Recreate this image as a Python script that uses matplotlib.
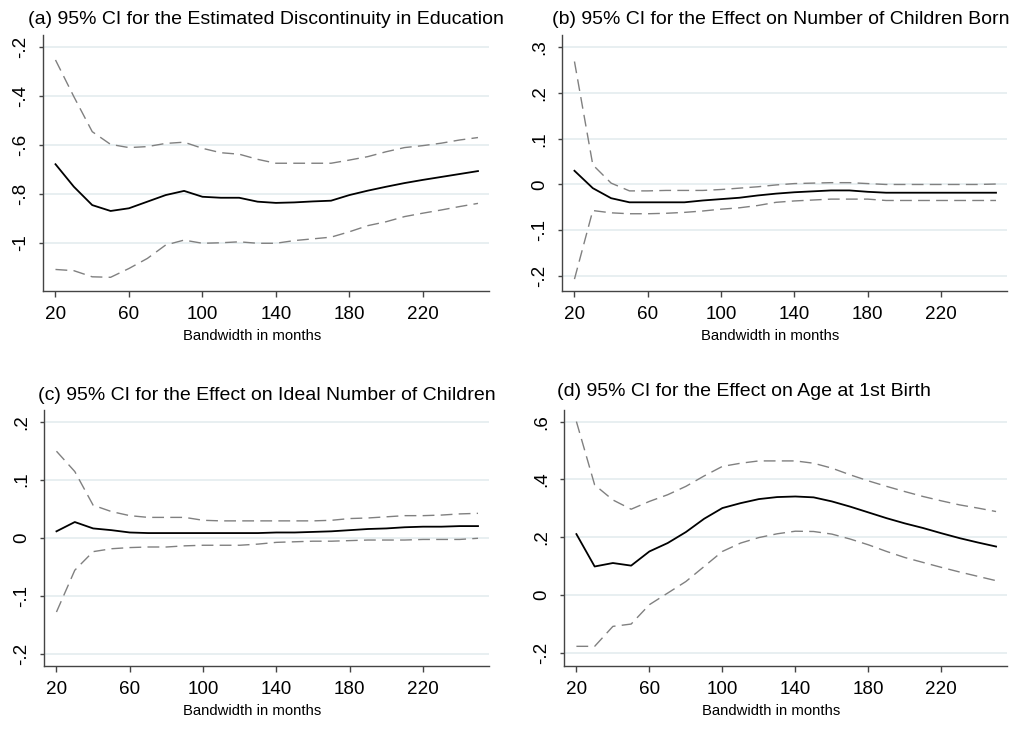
import numpy as np
import matplotlib
matplotlib.use('Agg')
import matplotlib.pyplot as plt

plt.rcParams['font.family'] = ['Liberation Sans', 'DejaVu Sans']

#############################################################
''' Data read from the reference picture '''

bandwidth = [20, 30, 40, 50, 60, 70, 80, 90, 100, 110, 120, 130,
             140, 150, 160, 170, 180, 190, 200, 210, 220, 230, 240, 250]

# (a) discontinuity in education
edu_est = [-0.678, -0.770, -0.845, -0.869, -0.858, -0.831, -0.804, -0.787, -0.811, -0.815, -0.815, -0.831,
           -0.836, -0.834, -0.830, -0.827, -0.804, -0.786, -0.770, -0.755, -0.742, -0.730, -0.718, -0.706]
edu_hi = [-0.252, -0.402, -0.545, -0.597, -0.610, -0.606, -0.593, -0.588, -0.613, -0.631, -0.637, -0.658,
          -0.674, -0.674, -0.674, -0.674, -0.661, -0.647, -0.627, -0.610, -0.602, -0.592, -0.579, -0.569]
edu_lo = [-1.108, -1.113, -1.138, -1.140, -1.104, -1.063, -1.008, -0.988, -1.001, -0.999, -0.995, -1.001,
          -1.001, -0.990, -0.983, -0.976, -0.954, -0.929, -0.913, -0.892, -0.878, -0.865, -0.851, -0.838]

# (b) number of children born
born_est = [0.030, -0.008, -0.030, -0.039, -0.039, -0.039, -0.039, -0.035, -0.032, -0.029, -0.024, -0.020,
            -0.017, -0.015, -0.013, -0.013, -0.016, -0.018, -0.018, -0.018, -0.018, -0.018, -0.018, -0.018]
born_hi = [0.269, 0.043, 0.003, -0.014, -0.014, -0.013, -0.013, -0.013, -0.011, -0.008, -0.005, -0.001,
           0.002, 0.003, 0.004, 0.004, 0.002, 0.000, 0.000, 0.000, 0.000, 0.000, 0.000, 0.001]
born_lo = [-0.207, -0.057, -0.062, -0.064, -0.064, -0.063, -0.061, -0.058, -0.054, -0.051, -0.046, -0.039,
           -0.036, -0.034, -0.032, -0.032, -0.032, -0.035, -0.035, -0.035, -0.035, -0.035, -0.035, -0.035]

# (c) ideal number of children
ideal_est = [0.011, 0.027, 0.016, 0.013, 0.009, 0.008, 0.008, 0.008, 0.008, 0.008, 0.008, 0.008,
             0.009, 0.009, 0.010, 0.011, 0.013, 0.015, 0.016, 0.018, 0.019, 0.019, 0.020, 0.020]
ideal_hi = [0.149, 0.114, 0.056, 0.045, 0.038, 0.035, 0.035, 0.035, 0.030, 0.029, 0.029, 0.029,
            0.029, 0.029, 0.029, 0.030, 0.033, 0.034, 0.036, 0.038, 0.038, 0.039, 0.041, 0.042]
ideal_lo = [-0.128, -0.056, -0.024, -0.019, -0.017, -0.016, -0.016, -0.014, -0.013, -0.013, -0.013, -0.011,
            -0.008, -0.007, -0.006, -0.006, -0.005, -0.004, -0.004, -0.004, -0.003, -0.003, -0.003, -0.001]

# (d) age at first birth
age_est = [0.211, 0.099, 0.111, 0.102, 0.151, 0.180, 0.218, 0.264, 0.301, 0.318, 0.332, 0.339,
           0.341, 0.338, 0.324, 0.306, 0.286, 0.266, 0.248, 0.232, 0.214, 0.197, 0.182, 0.168]
age_hi = [0.600, 0.381, 0.329, 0.297, 0.324, 0.347, 0.376, 0.412, 0.445, 0.456, 0.464, 0.464,
          0.464, 0.456, 0.439, 0.416, 0.395, 0.376, 0.358, 0.341, 0.326, 0.312, 0.301, 0.289]
age_lo = [-0.177, -0.177, -0.108, -0.100, -0.033, 0.007, 0.047, 0.099, 0.151, 0.180, 0.199, 0.212,
          0.221, 0.220, 0.211, 0.194, 0.174, 0.151, 0.130, 0.113, 0.096, 0.080, 0.065, 0.050]

x_ticks = [20, 60, 100, 140, 180, 220]

titles = ['(a) 95% CI for the Estimated Discontinuity in Education',
          '(b) 95% CI for the Effect on Number of Children Born',
          '(c) 95% CI for the Effect on Ideal Number of Children',
          '(d) 95% CI for the Effect on Age at 1st Birth']

y_ticks = [[-1, -0.8, -0.6, -0.4, -0.2],
           [-0.2, -0.1, 0, 0.1, 0.2, 0.3],
           [-0.2, -0.1, 0, 0.1, 0.2],
           [-0.2, 0, 0.2, 0.4, 0.6]]
y_ticklabels = [['-1', '-.8', '-.6', '-.4', '-.2'],
                ['-.2', '-.1', '0', '.1', '.2', '.3'],
                ['-.2', '-.1', '0', '.1', '.2'],
                ['-.2', '0', '.2', '.4', '.6']]
y_limits = [(-1.196, -0.15), (-0.233, 0.327), (-0.221, 0.220), (-0.245, 0.64)]

series = [(edu_est, edu_hi, edu_lo),
          (born_est, born_hi, born_lo),
          (ideal_est, ideal_hi, ideal_lo),
          (age_est, age_hi, age_lo)]

##########################################################
''' Layout (pixel boxes from the reference) '''

W, H = 1013, 736
boxes = [(43, 35, 489, 291), (562, 35, 1007, 291),
         (44, 410, 489, 666), (564, 410, 1007, 666)]
title_pos = [(266, 20, 'center'), (781, 20, 'center'), (267, 395, 'center'), (557, 392, 'left')]

fig = plt.figure(figsize=(W / 100, H / 100), dpi=100)
fig.patch.set_facecolor('white')

grid_col = '#e8eff1'
spine_col = '#444444'

for i in range(4):
	l, t, r, b = boxes[i]
	ax = fig.add_axes([l / W, 1 - b / H, (r - l) / W, (b - t) / H])
	est, hi, lo = series[i]

	ax.plot(bandwidth, hi, color='#808080', lw=1.0, dashes=(8.5, 4.5))
	ax.plot(bandwidth, lo, color='#808080', lw=1.0, dashes=(8.5, 4.5))
	ax.plot(bandwidth, est, color='black', lw=1.3)

	ax.set_xlim(13.2, 256)
	ax.set_ylim(*y_limits[i])
	ax.set_xticks(x_ticks)
	ax.set_xticklabels([str(v) for v in x_ticks])
	ax.set_yticks(y_ticks[i])
	ax.set_yticklabels(y_ticklabels[i], rotation=90, va='center')
	ax.grid(axis='y', color=grid_col, lw=1.4)
	ax.set_axisbelow(True)

	for s in ['top', 'right']:
		ax.spines[s].set_visible(False)
	for s in ['left', 'bottom']:
		ax.spines[s].set_color(spine_col)
		ax.spines[s].set_linewidth(1.0)

	ax.tick_params(axis='x', length=4.3, width=1.0, color=spine_col, pad=6.5, labelsize=13.6)
	ax.tick_params(axis='y', length=3, width=1.0, color=spine_col, pad=7, labelsize=13.6)

	ax.set_xlabel('Bandwidth in months', fontsize=10.7)
	ax.xaxis.set_label_coords(0.468, -0.148)

	tx, ty, ha = title_pos[i]
	fig.text(tx / W, 1 - ty / H, titles[i], ha=ha, va='center', fontsize=14.0)

plt.savefig('out.png', dpi=100)
